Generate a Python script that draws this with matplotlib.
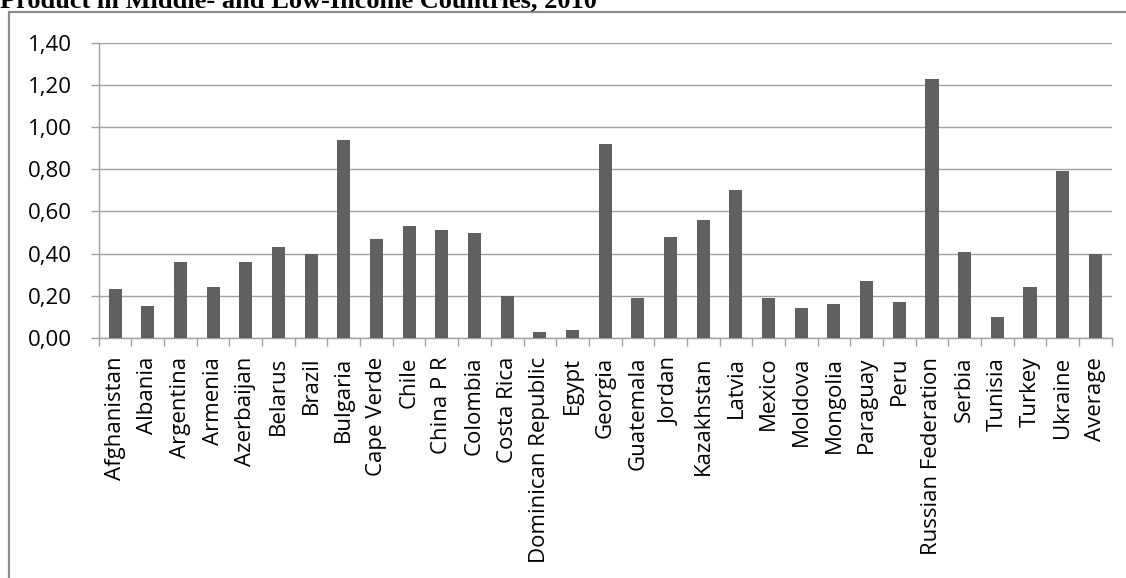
import matplotlib
matplotlib.use("Agg")
import matplotlib.pyplot as plt
from matplotlib.patches import Rectangle
from matplotlib.ticker import FixedLocator, FuncFormatter
import numpy as np

TITLE = "Product in Middle- and Low-Income Countries, 2010"

COUNTRIES = [
    "Afghanistan", "Albania", "Argentina", "Armenia", "Azerbaijan", "Belarus",
    "Brazil", "Bulgaria", "Cape Verde", "Chile", "China P R", "Colombia",
    "Costa Rica", "Dominican Republic", "Egypt", "Georgia", "Guatemala",
    "Jordan", "Kazakhstan", "Latvia", "Mexico", "Moldova", "Mongolia",
    "Paraguay", "Peru", "Russian Federation", "Serbia", "Tunisia", "Turkey",
    "Ukraine", "Average",
]
VALUES = [
    0.23, 0.15, 0.36, 0.24, 0.36, 0.43,
    0.40, 0.94, 0.47, 0.53, 0.51, 0.50,
    0.20, 0.03, 0.04, 0.92, 0.19,
    0.48, 0.56, 0.70, 0.19, 0.14, 0.16,
    0.27, 0.17, 1.23, 0.41, 0.10, 0.24,
    0.79, 0.40,
]
Y_TICKS = [0.0, 0.2, 0.4, 0.6, 0.8, 1.0, 1.2, 1.4]

W, H = 1126, 578
BAR_COLOR = "#606060"
GRID_COLOR = "#a0a0a0"
FONT = "Open Sans"
LABEL_SIZE = 16

fig = plt.figure(figsize=(W / 100, H / 100), dpi=100)

# outer chart frame (runs off the right and bottom edges)
fig.patches.append(Rectangle((8.5 / W, -0.1), 1.2, 1 - 12.5 / H + 0.1,
                             transform=fig.transFigure, fill=False,
                             edgecolor="#8c8c8c", linewidth=1.6))

fig.text(0, 1 - 7 / H, TITLE, family="Liberation Serif", weight="bold",
         fontsize=19, ha="left", va="baseline")

ax = fig.add_axes([98.7 / W, 1 - 338 / H, (1111.7 - 98.7) / W, (338 - 42.7) / H])

x = np.arange(len(COUNTRIES))
ax.bar(x, VALUES, width=0.4, color=BAR_COLOR, zorder=3)

ax.set_xlim(-0.5, len(COUNTRIES) - 0.5)
ax.set_ylim(0, 1.4)

ax.set_yticks(Y_TICKS)
ax.yaxis.set_major_formatter(FuncFormatter(lambda v, p: f"{v:.2f}".replace(".", ",")))
ax.yaxis.grid(True, color=GRID_COLOR, linewidth=1.0, zorder=0)

ax.xaxis.set_major_locator(FixedLocator(np.arange(len(COUNTRIES) + 1) - 0.5))
ax.xaxis.set_major_formatter(FuncFormatter(lambda v, p: ""))
ax.xaxis.set_minor_locator(FixedLocator(x))
ax.set_xticklabels(COUNTRIES, minor=True, rotation=90)

ax.tick_params(axis="x", which="major", length=6, width=1.0, color=GRID_COLOR, direction="out")
ax.tick_params(axis="x", which="minor", length=0, pad=13.5, labelsize=LABEL_SIZE)
ax.tick_params(axis="y", length=6, width=1.0, color=GRID_COLOR, pad=13, labelsize=LABEL_SIZE)

for lab in ax.get_xticklabels(minor=True) + ax.get_yticklabels():
    lab.set_family(FONT)

for side in ("top", "right"):
    ax.spines[side].set_visible(False)
for side in ("left", "bottom"):
    ax.spines[side].set_color(GRID_COLOR)
    ax.spines[side].set_linewidth(1.0)

fig.savefig("out.png", dpi=100)
